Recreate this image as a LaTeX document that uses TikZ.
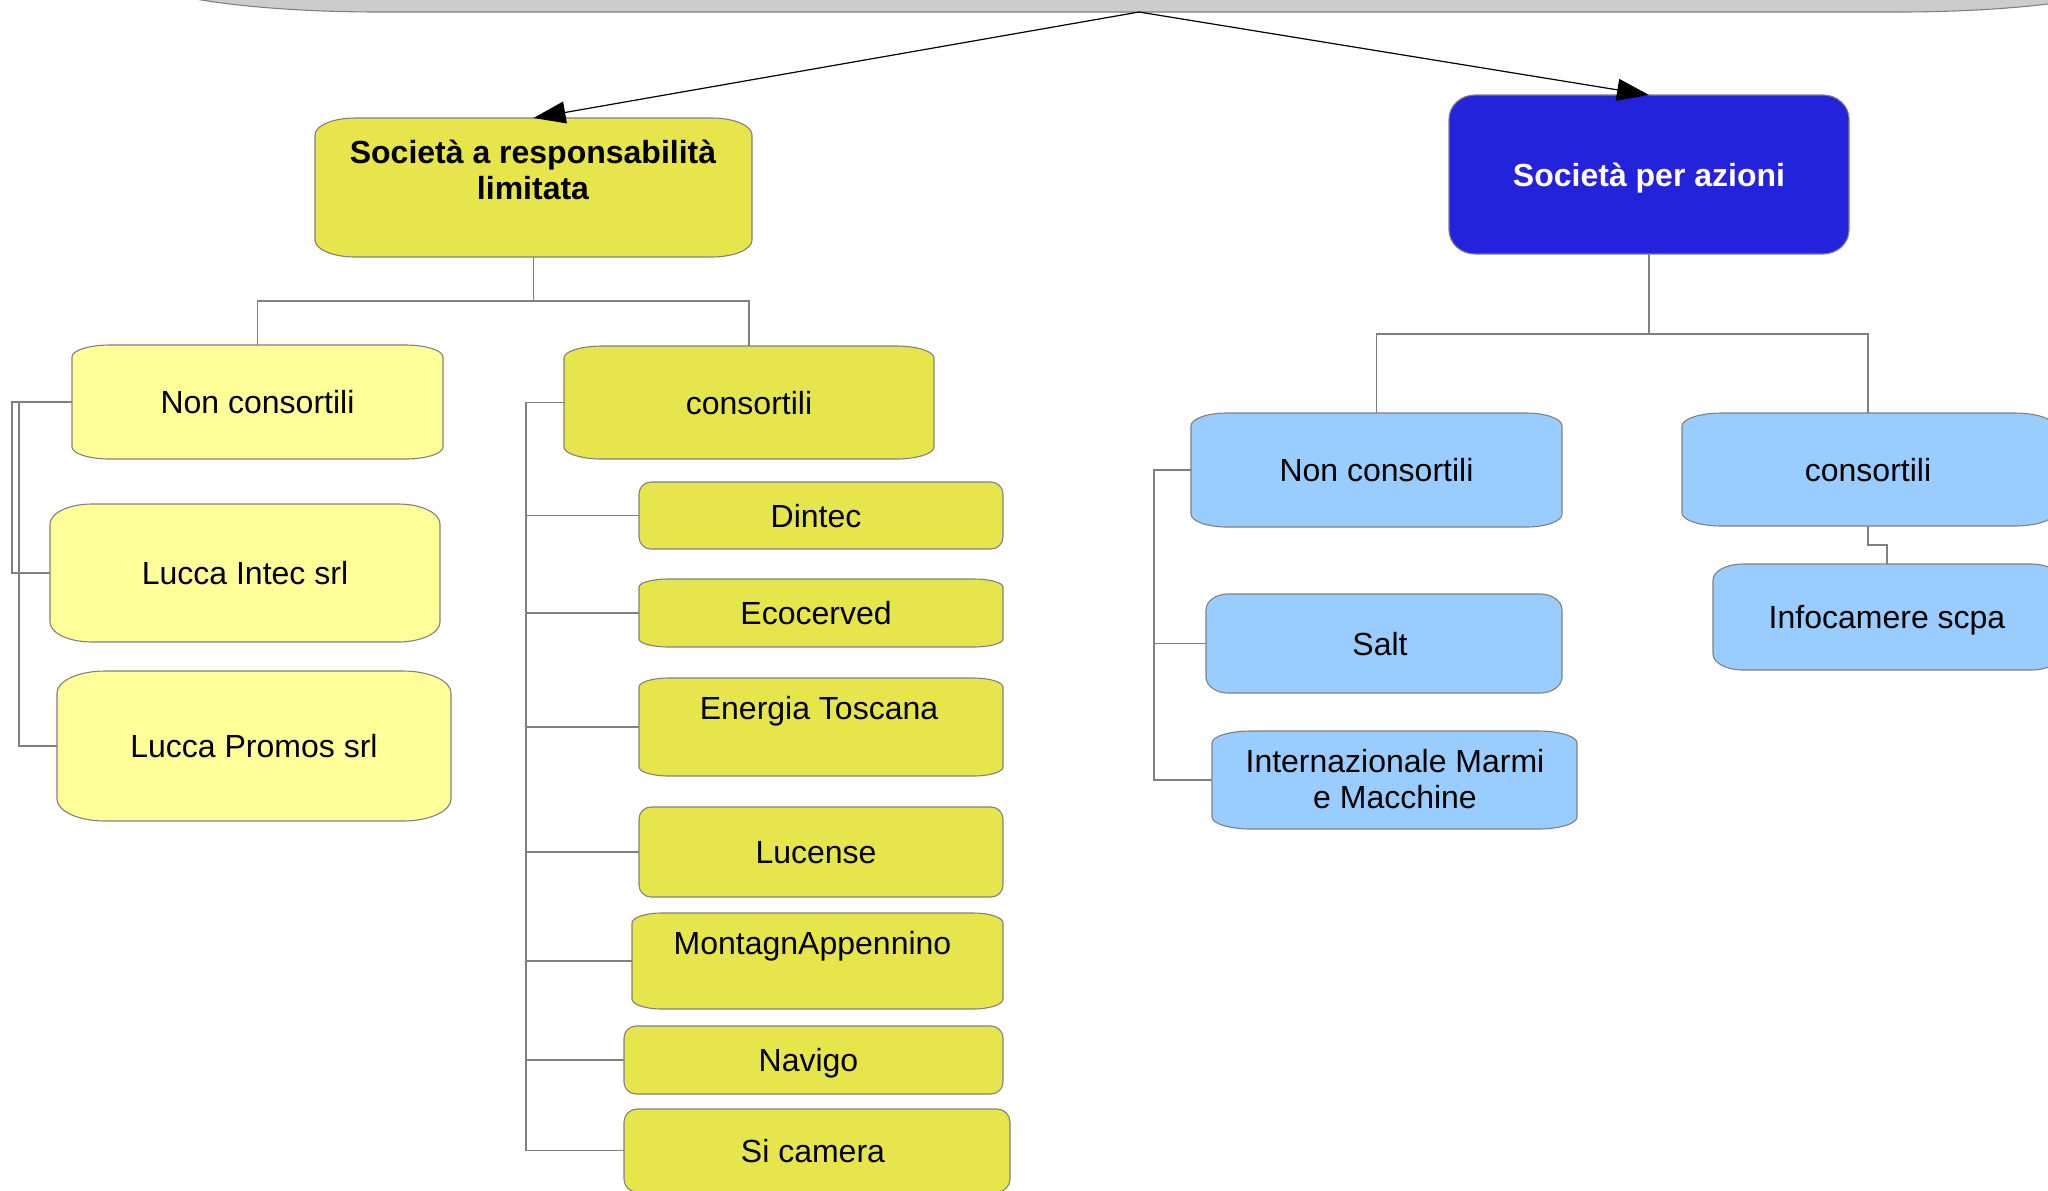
\documentclass[tikz,border=0pt]{standalone}
\usepackage{fontspec}
\setmainfont{Liberation Sans}
\usetikzlibrary{arrows.meta}
\definecolor{ydark}{HTML}{E6E64C}
\definecolor{ylight}{HTML}{FFFF99}
\definecolor{bdark}{HTML}{2323DC}
\definecolor{blight}{HTML}{99CCFF}
\definecolor{gtop}{HTML}{CCCCCC}
\definecolor{edgegrey}{HTML}{808080}
% #1 name, #2 x1, #3 y1, #4 x2, #5 y2, #6 rx, #7 ry, #8 fill colour
\newcommand\ebox[8]{%
  \path[fill=#8, draw=edgegrey, line width=0.55pt]
    (#2,{(#3)+(#7)}) .. controls +(0,{-0.5523*(#7)}) and +({-0.5523*(#6)},0) .. ({(#2)+(#6)},#3)
    -- ({(#4)-(#6)},#3) .. controls +({0.5523*(#6)},0) and +(0,{-0.5523*(#7)}) .. (#4,{(#3)+(#7)})
    -- (#4,{(#5)-(#7)}) .. controls +(0,{0.5523*(#7)}) and +({0.5523*(#6)},0) .. ({(#4)-(#6)},#5)
    -- ({(#2)+(#6)},#5) .. controls +({-0.5523*(#6)},0) and +(0,{0.5523*(#7)}) .. (#2,{(#5)-(#7)})
    -- cycle;
  \node[inner sep=0pt, outer sep=0pt, minimum width={((#4)-(#2))*0.5pt},
        minimum height={((#5)-(#3))*0.5pt}] (#1) at ({((#2)+(#4))/2},{((#3)+(#5))/2}) {};
}
\tikzset{
  txt/.style={inner sep=0pt, font=\fontsize{16}{18.25}\selectfont, text height=11.5pt, text depth=0pt},
  txtm/.style={inner sep=0pt, align=center, font=\fontsize{16}{18.25}\selectfont},
  conn/.style={draw=edgegrey, line width=0.55pt},
  arr/.style={draw=black, line width=0.6pt, -{Triangle[length=16pt,width=11pt]}}
}
\begin{document}
\begin{tikzpicture}[x=0.5pt, y=-0.5pt]
\useasboundingbox (0,0) rectangle (2048,1190);
% boxes
\ebox{root}{130}{-100}{2148}{12}{250}{40}{gtop}
\ebox{srl}{315}{118}{752}{257}{40}{17}{ydark}
\ebox{spa}{1449}{95}{1849}{254}{26}{24}{bdark}
\ebox{ncL}{72}{345}{443}{459}{38}{12}{ylight}
\ebox{cL}{564}{346}{934}{459}{38}{12}{ydark}
\ebox{lintec}{50}{504}{440}{642}{42}{20}{ylight}
\ebox{lpromos}{57}{671}{451}{821}{48}{22}{ylight}
\ebox{dintec}{639}{482}{1003}{549}{12}{12}{ydark}
\ebox{eco}{639}{579}{1003}{647}{30}{8}{ydark}
\ebox{energia}{639}{678}{1003}{776}{30}{9}{ydark}
\ebox{lucense}{639}{807}{1003}{897}{12}{12}{ydark}
\ebox{montagn}{632}{913}{1003}{1009}{30}{10}{ydark}
\ebox{navigo}{624}{1026}{1003}{1094}{12}{12}{ydark}
\ebox{sicam}{624}{1109}{1010}{1192}{13}{13}{ydark}
\ebox{ncR}{1191}{413}{1562}{527}{36}{13}{blight}
\ebox{cR}{1682}{413}{2054}{526}{40}{13}{blight}
\ebox{salt}{1206}{594}{1562}{693}{22}{16}{blight}
\ebox{imm}{1212}{731}{1577}{829}{39}{12}{blight}
\ebox{info}{1713}{564}{2061}{670}{30}{16}{blight}
% arrows
\draw[arr] (root.south) -- (srl.north);
\draw[arr] (root.south) -- (spa.north);
% tree connectors
\draw[conn] (srl.south) -- ++(0,44) -| (ncL.north);
\draw[conn] (srl.south) -- ++(0,44) -| (cL.north);
\draw[conn] (spa.south) -- ++(0,80) -| (ncR.north);
\draw[conn] (spa.south) -- ++(0,80) -| (cR.north);
\draw[conn] (ncL.west) -- ++(-60,0) |- (lintec.west);
\draw[conn] (ncL.west) -- ++(-53,0) |- (lpromos.west);
\foreach \n in {dintec,eco,energia,lucense,montagn,navigo,sicam}
  \draw[conn] (cL.west) -- ++(-38,0) |- (\n.west);
\draw[conn] (ncR.west) -- ++(-37,0) |- (salt.west);
\draw[conn] (ncR.west) -- ++(-37,0) |- (imm.west);
\draw[conn] (cR.south) -- ++(0,19) -| (info.north);
% texts
\node[txtm, font=\fontsize{16}{18.25}\selectfont\bfseries] at (533,170) {Società a responsabilità\\limitata};
\node[txt, font=\fontsize{16}{18.25}\selectfont\bfseries, text=white] at (spa) {Società per azioni};
\node[txt] at (ncL) {Non consortili};
\node[txt] at (cL) {consortili};
\node[txt] at (lintec) {Lucca Intec srl};
\node[txt] at (lpromos) {Lucca Promos srl};
\node[txt] at ([xshift=-2.5pt]dintec.center) {Dintec};
\node[txt] at ([xshift=-2.5pt]eco.center) {Ecocerved};
\node[txt] at ([xshift=-1pt,yshift=-15pt]energia.north) {Energia Toscana};
\node[txt] at ([xshift=-2.5pt]lucense.center) {Lucense};
\node[txt] at ([xshift=-2.5pt,yshift=-15pt]montagn.north) {MontagnAppennino};
\node[txt] at ([xshift=-2.5pt]navigo.center) {Navigo};
\node[txt] at ([xshift=-2pt]sicam.center) {Si camera};
\node[txt] at (ncR) {Non consortili};
\node[txt] at (cR) {consortili};
\node[txt] at ([xshift=-2pt]salt.center) {Salt};
\node[txtm] at (1395,779) {Internazionale Marmi\\e Macchine};
\node[txt] at (info) {Infocamere scpa};
\end{tikzpicture}
\end{document}
